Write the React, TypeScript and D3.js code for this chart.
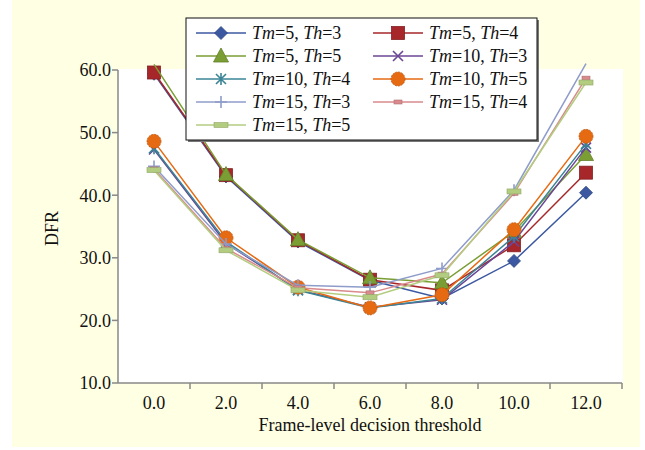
import React from "react";
import * as d3 from "d3";

const categories = ["0.0", "2.0", "4.0", "6.0", "8.0", "10.0", "12.0"];
const yTicks = [10, 20, 30, 40, 50, 60];

const tm5th3 = [59.4, 43.0, 32.6, 26.4, 23.5, 29.5, 40.4];
const tm5th4 = [59.6, 43.2, 32.8, 26.5, 24.8, 32.0, 43.6];
const tm5th5 = [60.9, 43.3, 32.9, 26.8, 26.0, 34.2, 46.5];
const tm10th3 = [47.3, 32.3, 24.9, 22.1, 23.3, 32.6, 47.6];
const tm10th4 = [47.5, 32.6, 24.8, 22.0, 23.5, 33.4, 48.2];
const tm10th5 = [48.6, 33.2, 25.3, 22.0, 24.1, 34.5, 49.4];
const tm15th3 = [44.6, 32.2, 25.6, 25.3, 28.3, 40.8, 61.0];
const tm15th4 = [44.2, 31.5, 25.2, 24.4, 27.4, 40.3, 58.7];
const tm15th5 = [44.0, 31.2, 24.8, 23.7, 27.2, 40.6, 58.0];

const seriesTm = ["5", "5", "5", "10", "10", "10", "15", "15", "15"];
const seriesTh = ["3", "4", "5", "3", "4", "5", "3", "4", "5"];
const seriesValues = [tm5th3, tm5th4, tm5th5, tm10th3, tm10th4, tm10th5, tm15th3, tm15th4, tm15th5];
const seriesColors = ["#3B58A0", "#A6262A", "#7A9E34", "#6A4696", "#3A8496", "#E66A12", "#8E9CCA", "#D98A8C", "#B3CD80"];
const seriesMarkers = ["diamond", "square", "triangle", "x", "star", "circle", "plus", "dash", "bar"];

const W = 645, H = 450;
const left = 118, right = 622, top = 70, bottom = 383;

function Marker({ type, x, y, color }: { type: string; x: number; y: number; color: string }) {
  const dark = d3.color(color)!.darker(0.6).toString();
  switch (type) {
    case "diamond":
      return <path d={`M${x},${y - 6.5} L${x + 6.5},${y} L${x},${y + 6.5} L${x - 6.5},${y} Z`} fill={color} stroke={dark} strokeWidth={0.8} />;
    case "square":
      return <rect x={x - 6.5} y={y - 6.5} width={13} height={13} fill={color} stroke={dark} strokeWidth={0.8} />;
    case "triangle":
      return <path d={`M${x},${y - 8} L${x + 7.5},${y + 6} L${x - 7.5},${y + 6} Z`} fill={color} stroke={dark} strokeWidth={0.8} />;
    case "x":
      return <path d={`M${x - 5},${y - 5} L${x + 5},${y + 5} M${x - 5},${y + 5} L${x + 5},${y - 5}`} stroke={color} strokeWidth={1.6} fill="none" />;
    case "star":
      return <path d={`M${x - 5},${y - 5} L${x + 5},${y + 5} M${x - 5},${y + 5} L${x + 5},${y - 5} M${x},${y - 6} L${x},${y + 6}`} stroke={color} strokeWidth={1.6} fill="none" />;
    case "circle":
      return <circle cx={x} cy={y} r={7} fill={color} stroke={dark} strokeWidth={0.8} strokeDasharray="2,1" />;
    case "plus":
      return <path d={`M${x - 6},${y} L${x + 6},${y} M${x},${y - 6} L${x},${y + 6}`} stroke={color} strokeWidth={1.6} fill="none" />;
    case "dash":
      return <rect x={x - 4} y={y - 2} width={8} height={4} fill={color} stroke={dark} strokeWidth={0.6} />;
    case "bar":
      return <rect x={x - 7} y={y - 2.5} width={14} height={5} fill={color} stroke={dark} strokeWidth={0.6} />;
  }
  return null;
}

export default function App() {
  const x = d3.scaleBand<string>().domain(categories).range([left, right]);
  const y = d3.scaleLinear().domain([10, 60]).range([bottom, top]);
  const cx = (c: string) => (x(c) as number) + x.bandwidth() / 2;
  const line = d3.line<number>().x((_, i) => cx(categories[i])).y((v) => y(v));
  const serif = "'Liberation Serif', 'Times New Roman', serif";

  const legX = [196, 373];
  const legY0 = 33, legDy = 23;

  return (
    <svg width={W} height={H} style={{ position: "absolute", left: 0, top: 0 }} fontFamily={serif}>
      <rect x={12} y={0} width={628} height={447} fill="#FFFFE3" />
      <rect x={left} y={69} width={right - left + 1} height={bottom - 69} fill="#FFFFFF" />

      {/* y axis */}
      <line x1={left} y1={top} x2={left} y2={bottom} stroke="#888" strokeWidth={1.5} />
      {yTicks.map((t) => (
        <g key={t}>
          <line x1={left - 6} x2={left} y1={y(t)} y2={y(t)} stroke="#888" strokeWidth={1.5} />
          <text x={left - 7} y={y(t)} dy="0.35em" textAnchor="end" fontSize={18} fill="#111">{t.toFixed(1)}</text>
        </g>
      ))}
      <text transform={`translate(58,${(top + bottom) / 2 + 2}) rotate(-90)`} textAnchor="middle" fontSize={18} fill="#111">DFR</text>

      {/* x axis */}
      <line x1={left} y1={bottom} x2={right} y2={bottom} stroke="#888" strokeWidth={1.5} />
      {categories.map((c) => (
        <g key={c}>
          <line x1={(x(c) as number) + x.bandwidth()} x2={(x(c) as number) + x.bandwidth()} y1={bottom} y2={bottom + 6} stroke="#888" strokeWidth={1.5} />
          <text x={cx(c)} y={bottom + 26} textAnchor="middle" fontSize={18} fill="#111">{c}</text>
        </g>
      ))}
      <text x={(left + right) / 2} y={bottom + 48} textAnchor="middle" fontSize={18} fill="#111">Frame-level decision threshold</text>

      {/* series */}
      {seriesValues.map((vals, si) => (
        <g key={si}>
          <path d={line(vals) as string} fill="none" stroke={seriesColors[si]} strokeWidth={1.5} />
          {vals.map((v, i) =>
            v <= 60 ? (
              <Marker key={i} type={seriesMarkers[si]} x={cx(categories[i])} y={y(v)} color={seriesColors[si]} />
            ) : null
          )}
        </g>
      ))}

      {/* legend */}
      <rect x={188} y={20} width={351} height={122} fill="#777" />
      <rect x={186} y={18} width={351} height={122} fill="#FFFFFF" stroke="#111" strokeWidth={1} />
      {seriesValues.map((_, si) => {
        const col = si % 2;
        const row = Math.floor(si / 2);
        const lx = legX[col];
        const ly = legY0 + row * legDy;
        return (
          <g key={si}>
            <line x1={lx} x2={lx + 50} y1={ly} y2={ly} stroke={seriesColors[si]} strokeWidth={1.5} />
            <Marker type={seriesMarkers[si]} x={lx + 25} y={ly} color={seriesColors[si]} />
            <text x={lx + 56} y={ly} dy="0.35em" fontSize={18} fill="#111">
              <tspan fontStyle="italic">Tm</tspan>
              <tspan>{`=${seriesTm[si]}, `}</tspan>
              <tspan fontStyle="italic">Th</tspan>
              <tspan>{`=${seriesTh[si]}`}</tspan>
            </text>
          </g>
        );
      })}
    </svg>
  );
}
